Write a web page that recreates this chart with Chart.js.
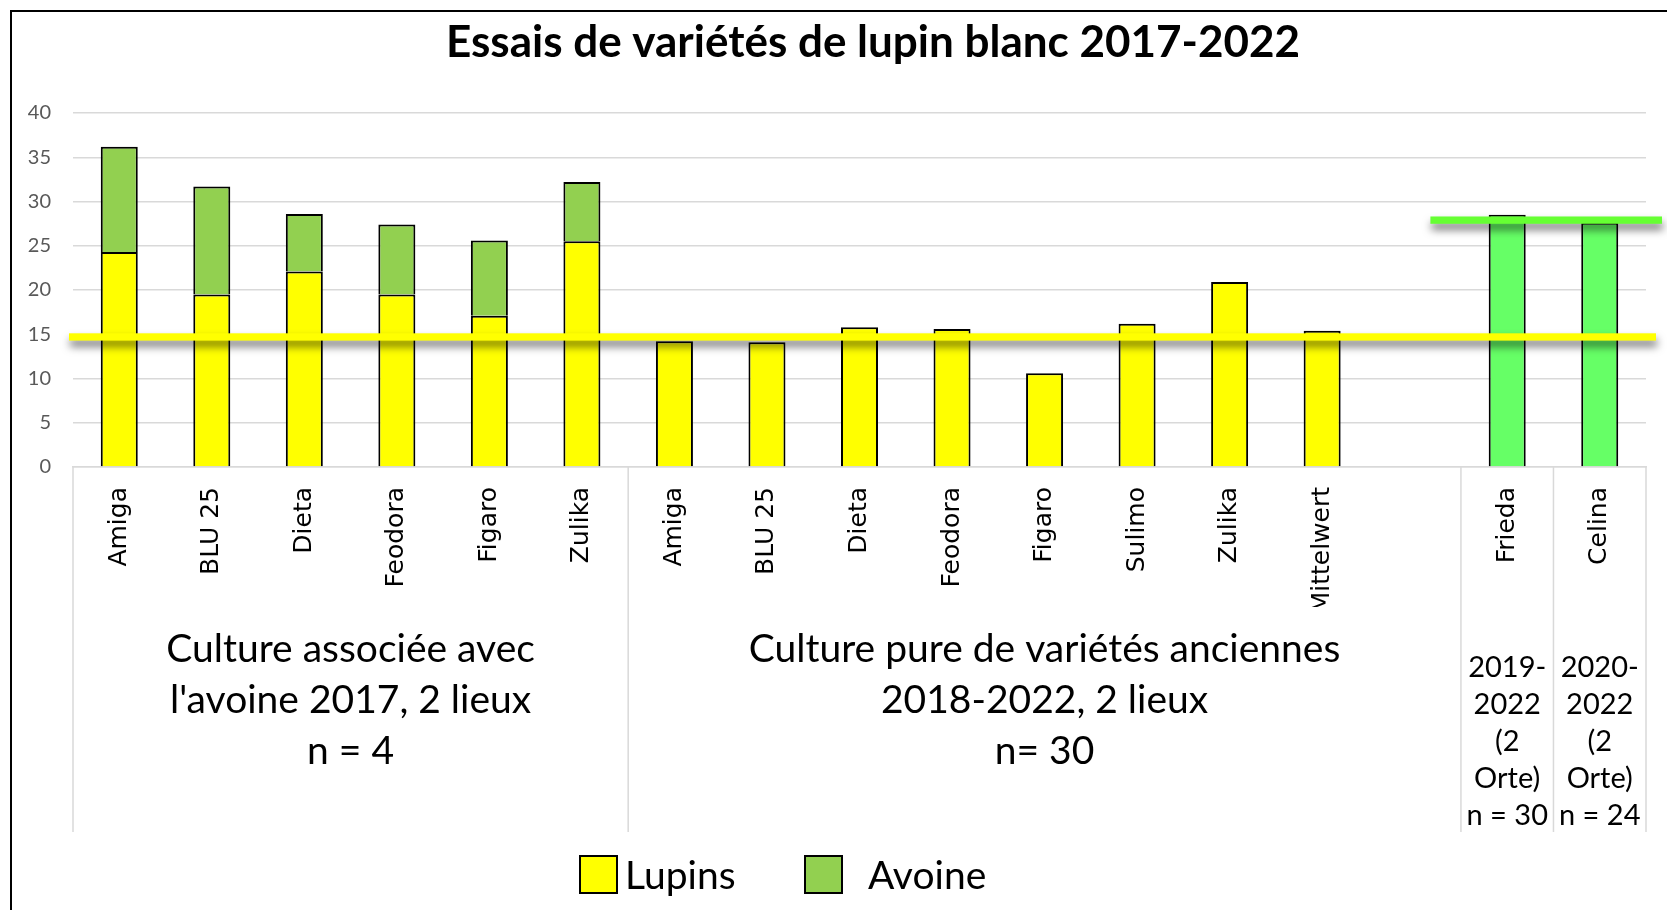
<!DOCTYPE html>
<html><head><meta charset="utf-8">
<script src="https://cdn.jsdelivr.net/npm/chart.js@4.4.1/dist/chart.umd.min.js"></script>
<style>html,body{margin:0;padding:0;background:#fff;} canvas{display:block;}</style>
</head><body>
<canvas id="c" width="1667" height="910"></canvas>
<script>
// ---------- data ----------
const TITLE = 'Essais de variétés de lupin blanc 2017-2022';
const categories = ['Amiga','BLU 25','Dieta','Feodora','Figaro','Zulika',
  'Amiga','BLU 25','Dieta','Feodora','Figaro','Sulimo','Zulika','Mittelwert','',
  'Frieda','Celina'];
const lupins = [24.3,19.5,22.1,19.5,17.1,25.5, 14.2,14.1,15.8,15.6,10.6,16.2,20.9,15.4,null, 28.5,27.6];
const avoine = [11.9,12.2,6.5,7.9,8.5,6.7, null,null,null,null,null,null,null,null,null, null,null];
const seriesNames = ['Lupins','Avoine'];
const yMin = 0, yMax = 40, yStep = 5;
const groupSizes = [6, 9, 1, 1];
const groupLabels = [
  ['Culture associée avec', "l'avoine 2017, 2 lieux", 'n = 4'],
  ['Culture pure de variétés anciennes', '2018-2022, 2 lieux', 'n= 30'],
  ['2019-', '2022', '(2', 'Orte)', 'n = 30'],
  ['2020-', '2022', '(2', 'Orte)', 'n = 24']
];
const refLines = [14.7, 27.9];   // moyenne lupins anciennes, niveau nouvelles variétés

// ---------- styles ----------
const YELLOW = '#FFFF00', OAT = '#92D050', NEWGREEN = '#66FF66', LINEGREEN = '#66FF33';
const groupOfIndex = [];
groupSizes.forEach((n, g) => { for (let k = 0; k < n; k++) groupOfIndex.push(g); });
const lupinColors = categories.map((c, i) => groupOfIndex[i] >= 2 ? NEWGREEN : YELLOW);

const decor = {
  id: 'decor',
  beforeDraw(chart) {
    const ctx = chart.ctx;
    ctx.save(); ctx.fillStyle = '#fff'; ctx.fillRect(0, 0, chart.width, chart.height); ctx.restore();
  },
  afterDatasetsDraw(chart) {
    const ctx = chart.ctx, ys = chart.scales.y, xs = chart.scales.x, ca = chart.chartArea;
    const cw = (ca.right - ca.left) / categories.length;
    const specs = [
      { v: refLines[0], x0: ca.left - 4, x1: ca.right + 10, color: YELLOW },
      { v: refLines[1], x0: xs.getPixelForValue(15) - 0.83 * cw, x1: ca.right + 16, color: LINEGREEN }
    ];
    specs.forEach(s => {
      const py = ys.getPixelForValue(s.v);
      ctx.save();
      ctx.shadowColor = 'rgba(0,0,0,0.55)';
      ctx.shadowBlur = 8; ctx.shadowOffsetX = 1; ctx.shadowOffsetY = 6;
      ctx.fillStyle = s.color;
      ctx.fillRect(s.x0, py - 3.6, s.x1 - s.x0, 7.3);
      ctx.restore();
    });
  },
  afterDraw(chart) {
    const ctx = chart.ctx, xs = chart.scales.x, ca = chart.chartArea;
    const cw = (ca.right - ca.left) / categories.length;
    ctx.save();
    // clip of the inner label row (Excel truncates long labels)
    ctx.fillStyle = '#fff';
    ctx.fillRect(ca.left + 2, 607, ca.right - ca.left - 4, 22);
    // group separators
    ctx.strokeStyle = '#d9d9d9'; ctx.lineWidth = 1.5;
    let idx = 0;
    const bounds = [0];
    groupSizes.forEach(n => { idx += n; bounds.push(idx); });
    bounds.forEach(b => {
      const x = xs.getPixelForValue(0) - cw / 2 + b * cw;
      ctx.beginPath(); ctx.moveTo(x, ca.bottom); ctx.lineTo(x, 832); ctx.stroke();
    });
    // group labels
    ctx.fillStyle = '#000'; ctx.textAlign = 'center'; ctx.textBaseline = 'alphabetic';
    let start = 0;
    groupSizes.forEach((n, g) => {
      const x0 = xs.getPixelForValue(start) - cw / 2;
      const cx = x0 + n * cw / 2;
      const narrow = n === 1;
      ctx.font = narrow ? '29px Lato' : '39px Lato';
      const first = narrow ? 677 : 662, step = narrow ? 37 : 51;
      groupLabels[g].forEach((t, k) => ctx.fillText(t, cx, first + k * step));
      start += n;
    });
    // title
    ctx.font = 'bold 44px Lato';
    ctx.fillText(TITLE, 873, 57);
    // legend
    const items = chart.data.datasets.map(d => ({ label: d.label, color: d.legendColor }));
    const pos = [{ bx: 580, tx: 625 }, { bx: 805, tx: 868 }];
    ctx.textAlign = 'left'; ctx.font = '39px Lato';
    items.forEach((it, k) => {
      ctx.fillStyle = it.color;
      ctx.fillRect(pos[k].bx, 856, 37, 37);
      ctx.strokeStyle = '#000'; ctx.lineWidth = 2;
      ctx.strokeRect(pos[k].bx, 856, 37, 37);
      ctx.fillStyle = '#000';
      ctx.fillText(it.label, pos[k].tx, 889);
    });
    // outer frame
    ctx.fillStyle = '#000';
    ctx.fillRect(10, 10, chart.width - 10, 2);
    ctx.fillRect(10, 10, 2, chart.height - 10);
    ctx.restore();
  }
};

function build() {
  Chart.defaults.font.family = 'Lato';
  new Chart(document.getElementById('c'), {
    type: 'bar',
    data: {
      labels: categories,
      datasets: [
        { label: seriesNames[0], data: lupins, backgroundColor: lupinColors, legendColor: YELLOW,
          borderColor: '#000', borderWidth: 2, barPercentage: 0.4, categoryPercentage: 1.0 },
        { label: seriesNames[1], data: avoine, backgroundColor: OAT, legendColor: OAT,
          borderColor: '#000', borderWidth: 2, barPercentage: 0.4, categoryPercentage: 1.0 }
      ]
    },
    options: {
      responsive: false, animation: false, devicePixelRatio: 1,
      layout: { padding: { left: 0, right: 21, top: 113, bottom: 0 } },
      plugins: { legend: { display: false }, title: { display: false }, tooltip: { enabled: false } },
      scales: {
        x: {
          stacked: true,
          grid: { display: false, drawTicks: false },
          border: { display: true, color: '#d9d9d9', width: 1.5 },
          ticks: { autoSkip: false, minRotation: 90, maxRotation: 90, padding: 20,
                   color: '#000', font: { family: 'DejaVu Sans', size: 25 } },
          afterFit(s) { s.height = 443; }
        },
        y: {
          stacked: true, min: yMin, max: yMax,
          grid: { color: '#d9d9d9', lineWidth: 1.5, drawTicks: false },
          border: { display: false },
          ticks: { stepSize: yStep, padding: 22, color: '#595959', font: { family: 'Lato', size: 20 } },
          afterFit(s) { s.width = 73; }
        }
      }
    },
    plugins: [decor]
  });
}
const fontsReady = Promise.all([
  document.fonts.load('bold 44px Lato'), document.fonts.load('39px Lato'), document.fonts.load('25px "DejaVu Sans"')
]).catch(() => {});
Promise.race([fontsReady, new Promise(r => setTimeout(r, 1500))]).then(build);
</script>
</body></html>
